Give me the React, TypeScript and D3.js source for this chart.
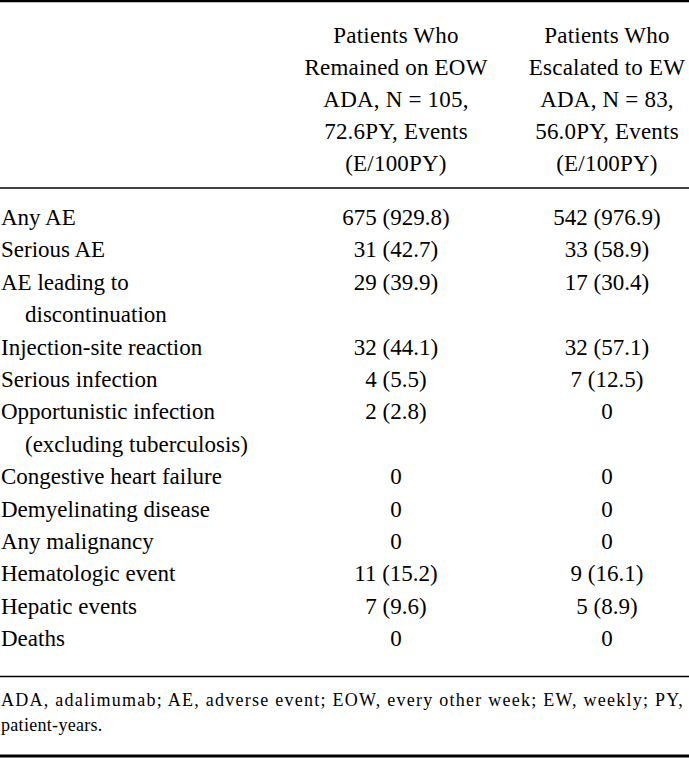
import React, { useEffect, useRef } from "react";
import * as d3 from "d3";

const headerCol1 = ["Patients Who", "Remained on EOW", "ADA, N = 105,", "72.6PY, Events", "(E/100PY)"];
const headerCol2 = ["Patients Who", "Escalated to EW", "ADA, N = 83,", "56.0PY, Events", "(E/100PY)"];

const categories: string[][] = [
  ["Any AE"],
  ["Serious AE"],
  ["AE leading to", "discontinuation"],
  ["Injection-site reaction"],
  ["Serious infection"],
  ["Opportunistic infection", "(excluding tuberculosis)"],
  ["Congestive heart failure"],
  ["Demyelinating disease"],
  ["Any malignancy"],
  ["Hematologic event"],
  ["Hepatic events"],
  ["Deaths"],
];
const eowValues = ["675 (929.8)", "31 (42.7)", "29 (39.9)", "32 (44.1)", "4 (5.5)", "2 (2.8)", "0", "0", "0", "11 (15.2)", "7 (9.6)", "0"];
const ewValues = ["542 (976.9)", "33 (58.9)", "17 (30.4)", "32 (57.1)", "7 (12.5)", "0", "0", "0", "0", "9 (16.1)", "5 (8.9)", "0"];
const footnoteLines = [
  "ADA, adalimumab; AE, adverse event; EOW, every other week; EW, weekly; PY,",
  "patient-years.",
];

const W = 689;
const H = 758;
const FONT = "'Liberation Serif', 'Times New Roman', serif";

export default function App() {
  const ref = useRef<SVGSVGElement | null>(null);

  useEffect(() => {
    document.body.style.margin = "0";
    const svg = d3.select(ref.current);
    svg.selectAll("*").remove();

    const colX = d3.scalePoint<string>().domain(["eow", "ew"]).range([396, 607]);

    // header
    const headY = d3.scaleLinear().domain([0, 4]).range([42.5, 171]);
    const hdr = svg.append("g").attr("font-family", FONT).attr("font-size", 23).attr("fill", "#000").attr("letter-spacing", 0.2);
    hdr.selectAll("text.h1").data(headerCol1).join("text")
      .attr("x", colX("eow")!).attr("y", (_, i) => headY(i)).attr("text-anchor", "middle").text(d => d);
    hdr.selectAll("text.h2").data(headerCol2).join("text")
      .attr("x", colX("ew")!).attr("y", (_, i) => headY(i)).attr("text-anchor", "middle").text(d => d);

    // body
    let lineIdx = 0;
    const rows = categories.map((lines, i) => {
      const start = lineIdx;
      lineIdx += lines.length;
      return { lines, start, eow: eowValues[i], ew: ewValues[i] };
    });
    const bodyY = d3.scaleLinear().domain([0, lineIdx - 1]).range([225, 225 + (lineIdx - 1) * 32.4]);
    const body = svg.append("g").attr("font-family", FONT).attr("font-size", 23).attr("fill", "#000").attr("letter-spacing", 0);
    rows.forEach(r => {
      r.lines.forEach((ln, j) => {
        body.append("text").attr("x", j === 0 ? 1 : 25).attr("y", bodyY(r.start + j)).text(ln);
      });
      body.append("text").attr("x", colX("eow")!).attr("y", bodyY(r.start)).attr("text-anchor", "middle").text(r.eow);
      body.append("text").attr("x", colX("ew")!).attr("y", bodyY(r.start)).attr("text-anchor", "middle").text(r.ew);
    });

    // footnote
    const foot = svg.append("g").attr("font-family", FONT).attr("font-size", 18).attr("fill", "#000").attr("letter-spacing", 0.3);
    footnoteLines.forEach((ln, i) => {
      const t = foot.append("text").attr("x", 1).attr("y", 706 + i * 25).text(ln);
      if (i === 0) t.attr("textLength", 682).attr("lengthAdjust", "spacing");
    });

    // rules
    const rules = [
      { y: 1, w: 2.5 },
      { y: 188, w: 1.6 },
      { y: 676.5, w: 1.6 },
      { y: 756, w: 3 },
    ];
    svg.append("g").selectAll("line").data(rules).join("line")
      .attr("x1", 0).attr("x2", W).attr("y1", d => d.y).attr("y2", d => d.y)
      .attr("stroke", "#000").attr("stroke-width", d => d.w);
  }, []);

  return (
    <svg ref={ref} width={W} height={H} style={{ position: "absolute", left: 0, top: 0, background: "#fff" }} />
  );
}
